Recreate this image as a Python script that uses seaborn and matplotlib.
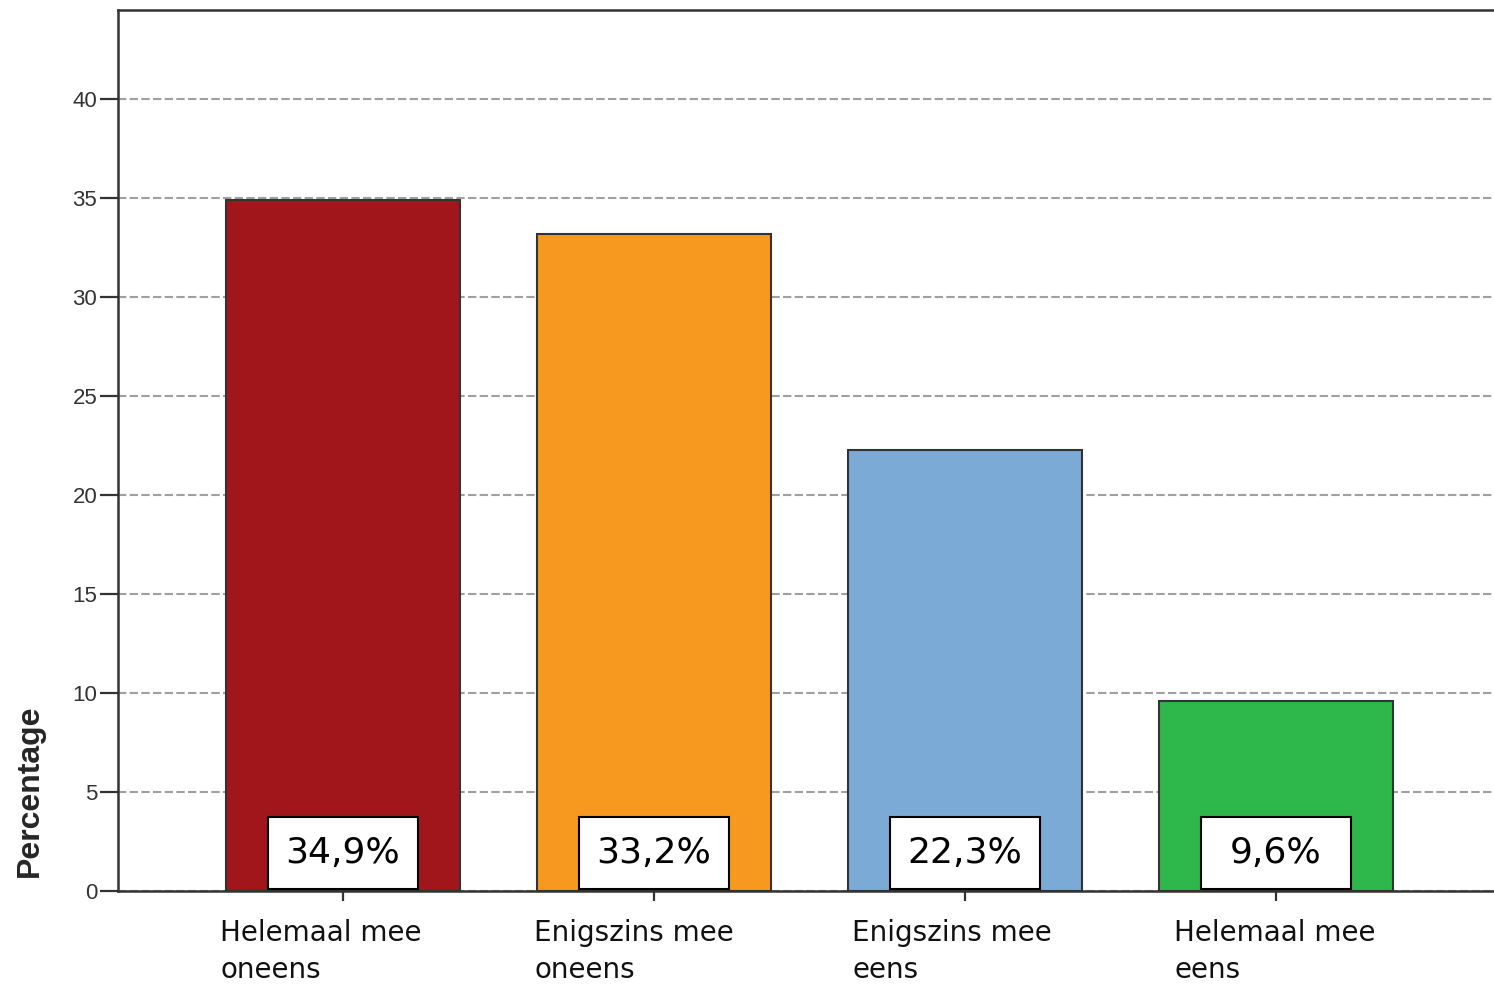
import matplotlib
matplotlib.use("Agg")
import matplotlib.pyplot as plt
import matplotlib.transforms as mtransforms
from matplotlib.patches import Rectangle
import seaborn as sns
import pandas as pd

categories = ["Helemaal mee\noneens", "Enigszins mee\noneens", "Enigszins mee\neens", "Helemaal mee\neens"]
values = [34.9, 33.2, 22.3, 9.6]
value_labels = ["34,9%", "33,2%", "22,3%", "9,6%"]
colors = ["#A1161A", "#F7981F", "#7BAAD6", "#2EB74A"]
yticks = [0, 5, 10, 15, 20, 25, 30, 35, 40]

sns.set_style("white")
plt.rcParams["font.family"] = ["DejaVu Sans"]

df = pd.DataFrame({"cat": categories, "val": values})

fig = plt.figure(figsize=(14.94, 9.88), dpi=100)
ax = fig.add_axes([118 / 1494, 1 - 891 / 988, 1 - 118 / 1494, (891 - 10) / 988])

sns.barplot(data=df, x="cat", y="val", hue="cat", palette=colors, legend=False,
            width=0.75, edgecolor="#333333", linewidth=1.5, ax=ax, zorder=3, saturation=1)

ax.set_xlim(-0.7235, 3.701)
ax.set_ylim(0, 44.5)
ax.set_yticks(yticks)
ax.set_yticklabels([str(t) for t in yticks], fontfamily="Liberation Sans", fontsize=16, color="#333333")

ax.yaxis.grid(True, linestyle=(0, (4, 1.6)), color="#a0a0a0", linewidth=1.5, zorder=0)
ax.xaxis.grid(False)
ax.set_axisbelow(True)

for s in ["left", "top", "bottom"]:
    ax.spines[s].set_visible(True)
    ax.spines[s].set_color("#333333")
    ax.spines[s].set_linewidth(1.8)
ax.spines["right"].set_visible(False)

ax.tick_params(axis="y", which="major", direction="out", length=13, width=1.6, color="#333333", pad=2, left=True)
ax.tick_params(axis="x", which="major", direction="out", length=7, width=1.6, color="#333333", pad=13, bottom=True)

label_shift_px = [-22, -20, -13, -1]
for lab, dx in zip(ax.get_xticklabels(), label_shift_px):
    lab.set_fontsize(20)
    lab.set_color("#111111")
    lab.set_multialignment("left")
    lab.set_linespacing(1.4)
    lab.set_transform(lab.get_transform() + mtransforms.ScaledTranslation(dx / 100, 0, fig.dpi_scale_trans))

ax.set_xlabel("")
ax.set_ylabel("Percentage", fontfamily="Liberation Sans", fontweight="bold", fontsize=23, loc="bottom")
ax.yaxis.set_label_coords(-0.053, 0.016)

box_w = 0.482
box_h = 3.62
for patch, lab in zip(ax.patches, value_labels):
    cx = patch.get_x() + patch.get_width() / 2
    rect = Rectangle((cx - box_w / 2, 0.1), box_w, box_h, facecolor="white",
                     edgecolor="black", linewidth=1.5, zorder=5)
    ax.add_patch(rect)
    ax.text(cx, 0.1 + box_h / 2, lab, ha="center", va="center", fontsize=26, color="black", zorder=6)

fig.savefig("out.png", dpi=100)
